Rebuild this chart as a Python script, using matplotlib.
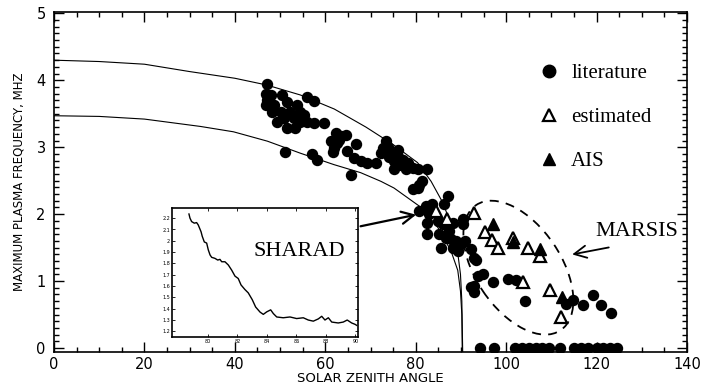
import matplotlib.pyplot as plt
import matplotlib.transforms as mtransforms
from matplotlib.patches import Ellipse
from matplotlib.lines import Line2D
from matplotlib.ticker import MultipleLocator

# literature points (solar zenith angle, max plasma frequency MHz)
lit_x = [47.2, 46.8, 47.2, 46.8, 47.9, 50.5, 48.6, 50.1, 51.6, 52.3, 53.8, 54.5, 53.1,
         54.5, 56.0, 57.5, 55.3, 49.4, 51.6, 53.4, 56.0, 57.5, 59.7, 48.3, 50.8, 62.3,
         64.5, 61.2, 62.7, 61.9, 63.0, 66.7, 61.6, 64.9, 66.4, 67.8, 69.3, 71.2, 72.3,
         51.2, 57.1, 58.2, 65.6, 63.4, 73.4, 73.0, 74.5, 74.1, 75.6, 76.3, 75.2, 76.7,
         78.2, 77.8, 79.3, 80.4, 82.6, 81.5, 80.8, 80.4, 79.3, 87.1, 72.7, 73.8, 76.0,
         77.1, 82.3, 83.7, 86.3, 80.8, 83.0, 82.6, 84.9, 86.0, 88.2, 90.4, 90.4, 85.2,
         82.6, 86.7, 87.8, 88.9, 90.8, 87.4, 85.6, 88.2, 89.3, 90.0, 92.2, 93.0, 93.3,
         93.7, 94.8, 97.1, 93.0, 92.2, 93.0, 100.4, 102.2, 104.1, 113.3, 114.8, 117.0,
         119.2, 120.9, 123.3, 75.2,
         94.2, 97.3, 102.0, 103.5, 105.0, 106.5, 108.0, 109.5, 112.0, 115.0, 116.5,
         118.0, 120.0, 121.5, 123.0, 124.5]
lit_y = [3.94, 3.80, 3.70, 3.63, 3.78, 3.78, 3.63, 3.53, 3.68, 3.53, 3.63, 3.53, 3.43,
         3.38, 3.75, 3.69, 3.48, 3.38, 3.28, 3.28, 3.38, 3.36, 3.36, 3.53, 3.43, 3.21,
         3.18, 3.09, 3.06, 2.99, 3.11, 3.05, 2.93, 2.94, 2.84, 2.80, 2.76, 2.77, 2.91,
         2.93, 2.90, 2.81, 2.59, 3.16, 3.09, 2.94, 2.91, 2.86, 2.89, 2.84, 2.79, 2.74,
         2.76, 2.67, 2.69, 2.67, 2.67, 2.49, 2.44, 2.39, 2.37, 2.27, 2.99, 3.01, 2.96,
         2.81, 2.12, 2.15, 2.15, 2.05, 2.00, 1.87, 1.90, 1.85, 1.87, 1.92, 1.85, 1.70,
         1.70, 1.65, 1.63, 1.60, 1.60, 1.75, 1.50, 1.50, 1.45, 1.55, 1.48, 1.35, 1.31,
         1.08, 1.11, 0.98, 0.93, 0.91, 0.84, 1.03, 1.02, 0.70, 0.65, 0.72, 0.64,
         0.79, 0.64, 0.52, 2.67,
         0, 0, 0, 0, 0, 0, 0, 0, 0, 0, 0,
         0, 0, 0, 0, 0]

# estimated (open triangles)
est_x = [84.5, 86.9, 93.0, 95.3, 96.9, 98.3, 101.5, 104.8, 107.4, 103.7, 109.8, 112.2]
est_y = [2.05, 1.92, 2.02, 1.73, 1.61, 1.50, 1.65, 1.50, 1.38, 0.98, 0.87, 0.46]

# AIS (filled triangles)
ais_x = [97.1, 101.5, 107.4, 112.3]
ais_y = [1.85, 1.58, 1.48, 0.76]

# model curves
upper_x = [0, 10, 20, 30, 40, 47, 54.5, 62, 69, 75, 80.4, 83.4, 86.0, 87.8, 89.3, 89.9, 90.2, 90.4]
upper_y = [4.30, 4.28, 4.24, 4.13, 4.03, 3.93, 3.78, 3.57, 3.30, 3.04, 2.77, 2.49, 2.17, 1.85,
           1.42, 1.10, 0.70, -0.1]
lower_x = [0, 10, 20, 32.4, 39.7, 47.2, 54.5, 61.9, 67.8, 72.3, 75.2, 81.2, 84.9, 87.8, 89.3,
           89.9, 90.2, 90.3]
lower_y = [3.47, 3.46, 3.42, 3.31, 3.23, 3.09, 2.91, 2.74, 2.62, 2.49, 2.39, 2.10, 1.80, 1.45,
           1.16, 0.85, 0.50, -0.1]

# SHARAD inset profile
sharad_x = [78.71, 78.78, 78.89, 79.07, 79.23, 79.34, 79.53, 79.61, 79.75, 79.91, 80.02, 80.14,
            80.25, 80.47, 80.66, 80.81, 80.93, 81.15, 81.38, 81.61, 81.83, 82.05, 82.24, 82.5,
            82.73, 83.0, 83.23, 83.53, 83.75, 83.98, 84.25, 84.43, 84.66, 85.1, 85.56, 86.01,
            86.46, 86.8, 87.14, 87.48, 87.71, 87.93, 88.16, 88.39, 88.83, 89.17, 89.44, 89.74,
            89.97, 90.08]
sharad_y = [2.237, 2.20, 2.17, 2.156, 2.161, 2.14, 2.08, 2.04, 1.99, 1.98, 1.92, 1.875,
            1.854, 1.845, 1.83, 1.836, 1.815, 1.815, 1.786, 1.74, 1.688, 1.667, 1.61, 1.57,
            1.54, 1.48, 1.415, 1.37, 1.35, 1.372, 1.39, 1.357, 1.327, 1.32, 1.327, 1.313,
            1.32, 1.30, 1.29, 1.31, 1.333, 1.30, 1.32, 1.282, 1.274, 1.282, 1.30, 1.274,
            1.262, 1.253]

serif = "Liberation Serif"

fig = plt.figure(figsize=(7.02, 3.88), dpi=100)
ax = fig.add_axes([54 / 702, 1 - 352 / 388, 633 / 702, 340 / 388])

ax.plot(upper_x, upper_y, color="black", lw=0.8)
ax.plot(lower_x, lower_y, color="black", lw=0.8)
ax.plot(lit_x, lit_y, "o", color="black", ms=7.2, mec="black")
ax.plot(est_x, est_y, "^", color="white", mec="black", mew=1.6, ms=8.5)
ax.plot(ais_x, ais_y, "^", color="black", mec="black", ms=8.5)

ax.set_xlim(0, 140)
ax.set_ylim(-0.06, 5.02)
ax.xaxis.set_major_locator(MultipleLocator(20))
ax.xaxis.set_minor_locator(MultipleLocator(5))
ax.yaxis.set_major_locator(MultipleLocator(1))
ax.yaxis.set_minor_locator(MultipleLocator(0.1))
ax.tick_params(which="both", direction="in", top=True, right=True, width=1, labelsize=10.5)
ax.tick_params(which="major", length=7, pad=6)
ax.tick_params(axis="x", which="major", pad=3.5)
ax.tick_params(which="minor", length=3.5)
for s in ax.spines.values():
    s.set_linewidth(1.2)

ax.set_xlabel("SOLAR ZENITH ANGLE", fontsize=9.5, labelpad=0)
ax.set_ylabel("MAXIMUM PLASMA FREQUENCY, MHZ", fontsize=8.5, labelpad=8)

# dashed MARSIS region
ell_trans = fig.dpi_scale_trans + mtransforms.ScaledTranslation(102.7, 1.20, ax.transData)
ax.add_patch(Ellipse((0, 0), 1.51, 0.85, angle=-56, transform=ell_trans, fill=False,
                     ec="black", lw=1.3, ls=(0, (5, 4))))

ax.annotate("", xy=(80.7, 2.0), xytext=(67.2, 1.81),
            arrowprops=dict(arrowstyle="->", lw=1.6, color="black", mutation_scale=22))
ax.annotate("", xy=(114.0, 1.39), xytext=(123.3, 1.51),
            arrowprops=dict(arrowstyle="->", lw=1.3, color="black", mutation_scale=22))
ax.text(129.0, 1.74, "MARSIS", family=serif, fontsize=16, ha="center", va="center")

handles = [
    Line2D([], [], ls="", marker="o", color="black", ms=9),
    Line2D([], [], ls="", marker="^", color="white", mec="black", mew=1.6, ms=8),
    Line2D([], [], ls="", marker="^", color="black", ms=8),
]
ax.legend(handles, ["literature", "estimated", "AIS"], loc="upper left",
          bbox_to_anchor=(0.766, 0.849), frameon=False, handlelength=1.0,
          handletextpad=0.55, labelspacing=1.17, borderpad=0, borderaxespad=0,
          prop={"family": serif, "size": 15})

# inset: SHARAD
ins = fig.add_axes([172 / 702, 1 - 337 / 388, 186 / 702, 129 / 388])
ins.plot(sharad_x, sharad_y, color="black", lw=1.0)
ins.set_xlim(77.56, 90.17)
ins.set_ylim(1.15, 2.29)
ins.set_xticks([80, 82, 84, 86, 88, 90])
ins.set_yticks([1.2, 1.3, 1.4, 1.5, 1.6, 1.7, 1.8, 1.9, 2.0, 2.1, 2.2])
ins.set_yticklabels(["1.2", "1.3", "1.4", "1.5", "1.6", "1.7", "1.8", "1.9", "2", "2.1", "2.2"])
ins.tick_params(direction="in", top=True, right=True, length=2, width=0.6,
                labelsize=3.5, pad=1.5)
for s in ins.spines.values():
    s.set_linewidth(1.2)
ins.text(0.683, 0.66, "SHARAD", transform=ins.transAxes, family=serif, fontsize=16,
         ha="center", va="center")

fig.savefig("out.png", dpi=100)
